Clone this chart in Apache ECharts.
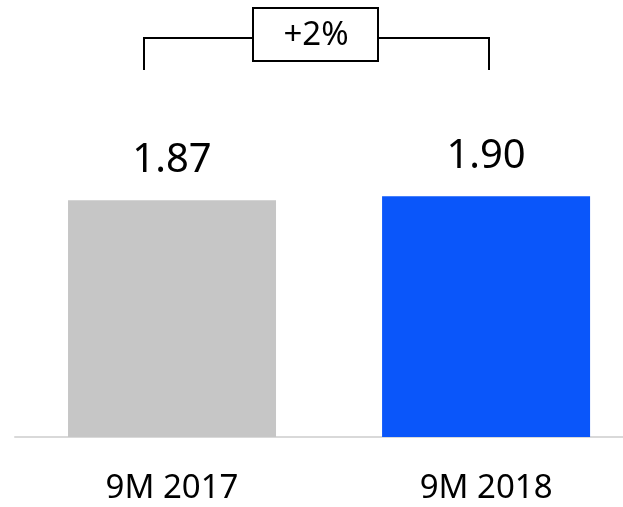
<!DOCTYPE html>
<html>
<head>
<meta charset="utf-8">
<script src="https://cdn.jsdelivr.net/npm/echarts@6/dist/echarts.min.js"></script>
<style>
  html, body { margin: 0; padding: 0; background: #fff; }
  #chart { width: 623px; height: 507px; }
</style>
</head>
<body>
<div id="chart"></div>
<script>
// periods + values
const periods = ['9M 2017', '9M 2018']
const values = [1.87, 1.90]
const barColors = ['#c6c6c6', '#0a56fa']
const changeLabel = '+2%'

const FONT = "'Noto Sans', 'Open Sans', sans-serif"

const chart = echarts.init(document.getElementById('chart'))

// value x-axis so the axis line can run past the bars like the original
chart.setOption({
  animation: false,
  grid: { top: 57, bottom: 70, left: 15, right: 0 },
  xAxis: {
    type: 'value',
    min: -0.5,
    max: 1.436,
    interval: 0.5,
    axisLine: { show: true, lineStyle: { color: '#d9d9d9', width: 2 } },
    axisTick: { show: false },
    splitLine: { show: false },
    axisLabel: {
      color: '#000',
      fontSize: 33,
      fontFamily: FONT,
      margin: 35,
      showMinLabel: false,
      showMaxLabel: false,
      formatter: (v) => (Number.isInteger(v) ? periods[v] ?? '' : ''),
    },
  },
  yAxis: {
    type: 'value',
    min: 0,
    max: 3,
    show: false,
    splitLine: { show: false },
  },
  series: [
    {
      type: 'bar',
      barWidth: 208,
      data: values.map((v, i) => ({ value: [i, v], itemStyle: { color: barColors[i] } })),
      label: {
        show: true,
        position: 'top',
        distance: 20,
        color: '#000',
        fontSize: 40,
        fontFamily: FONT,
        formatter: (p) => Number(p.value[1]).toFixed(2),
      },
    },
  ],
  // bracket + change box on top
  graphic: [
    {
      type: 'polyline',
      shape: { points: [[144, 70], [144, 38], [253, 38]] },
      style: { stroke: '#000', lineWidth: 2, fill: null },
    },
    {
      type: 'polyline',
      shape: { points: [[378, 38], [489, 38], [489, 70]] },
      style: { stroke: '#000', lineWidth: 2, fill: null },
    },
    {
      type: 'rect',
      shape: { x: 253, y: 8, width: 125, height: 53 },
      style: { stroke: '#000', lineWidth: 2, fill: '#fff' },
    },
    {
      type: 'text',
      x: 316,
      y: 36,
      style: {
        text: changeLabel,
        fill: '#000',
        fontSize: 33,
        fontFamily: FONT,
        align: 'center',
        verticalAlign: 'middle',
      },
    },
  ],
})
</script>
</body>
</html>
